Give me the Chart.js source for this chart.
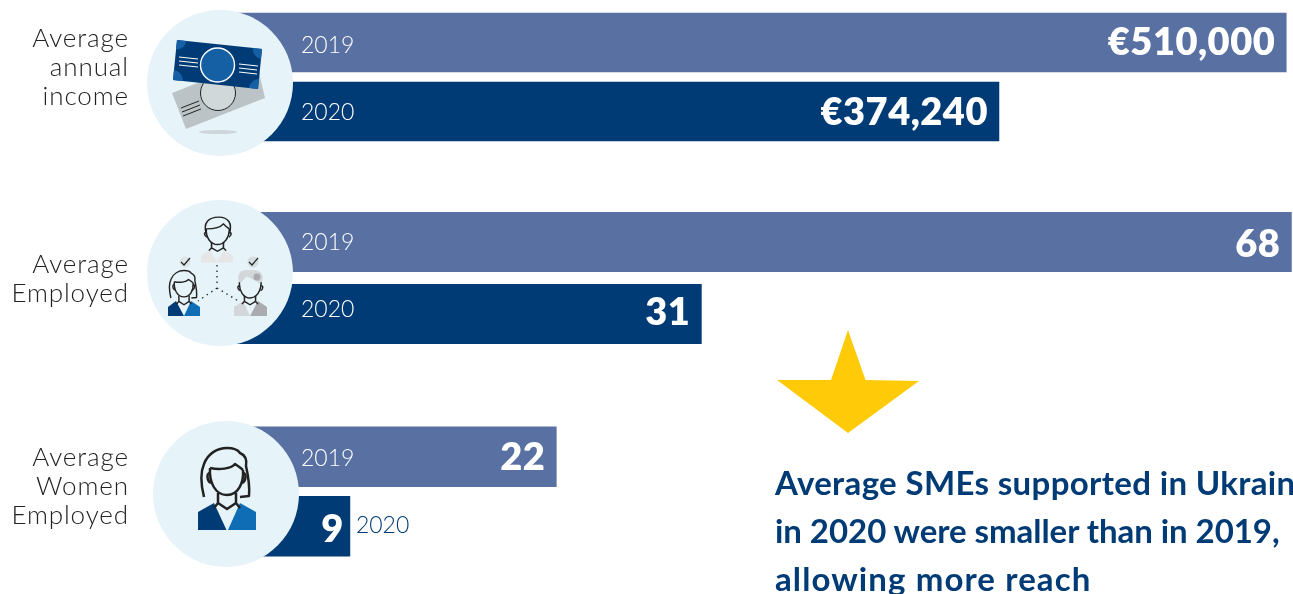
<!DOCTYPE html>
<html>
<head>
<meta charset="utf-8">
<script src="https://cdn.jsdelivr.net/npm/chart.js@4"></script>
<style>
    html, body { margin: 0; background: #fff; }
    #page { position: relative; width: 1293px; height: 594px; overflow: hidden; font-family: Lato, "Noto Sans", sans-serif; }
    canvas { position: absolute; left: 207px; }
    svg { position: absolute; left: 0; top: 0; }
    .rowLabel { position: absolute; right: 1164px; text-align: right; font-size: 26px; font-weight: 300; line-height: 29px; color: #222; letter-spacing: 0.9px; white-space: nowrap; }
    .headline { position: absolute; left: 775px; font-size: 33px; font-weight: 700; color: #003b76; white-space: nowrap; line-height: 48px; }
</style>
</head>
<body>
<div id="page">
    <canvas id="incomeChart" width="1086" height="138" style="top:8px"></canvas>
    <canvas id="employedChart" width="1086" height="144" style="top:206px"></canvas>
    <canvas id="womenChart" width="1086" height="139" style="top:422px"></canvas>

    <svg width="1293" height="594" viewBox="0 0 1293 594">
        <defs>
            <g id="womanHead" fill="none" stroke="#222" stroke-width="2.500" stroke-linejoin="round">
                <path d="M-23 50C-26 38-27 26-23 17C-19 6-9 1 0 1C6 1 11 3 13 6C18 8 20 13 19 19C21 28 23 38 22 49L13 50"/>
                <path d="M-17 21C-8 23 4 22 8 17C11 19 14 21 16 23"/>
                <path d="M-17 21C-18 35-12 48 0 48C11 48 17 36 16 23"/>
                <path d="M-17 26C-21 26-20 34-16 36M16 26C20 26 19 34 15 36"/>
                <path d="M-9 46V56L0 62L9 56V46M-13 61L-9 56M13 61L9 56"/>
            </g>
            <g id="manFace" fill="none" stroke="#222" stroke-width="2.400" stroke-linejoin="round">
                <path d="M-17 22C-18 38-10 50 0 50C10 50 18 38 18 22"/>
                <path d="M-17 28C-21 28-20 35-16 37M18 28C22 28 21 35 17 37"/>
                <path d="M-9 46V56L0 62L9 56V46M-13 61L-9 56M13 61L9 56"/>
            </g>
            <g id="manHair" fill="none" stroke="#222" stroke-width="2.400" stroke-linejoin="round">
                <path d="M-17 30C-22 12-14 1 2 1C16 1 23 12 18 30"/>
                <path d="M-17 22C-8 22 4 20 9 13C12 17 15 20 18 22"/>
            </g>
        </defs>

        <!-- icon circles -->
        <circle cx="220" cy="83" r="73" fill="#e6f3f9"/>
        <circle cx="220" cy="273" r="73" fill="#e6f3f9"/>
        <circle cx="226" cy="494" r="73" fill="#e6f3f9"/>

        <!-- money icon -->
        <ellipse cx="218" cy="132" rx="19" ry="2" fill="#cdd6da"/>
        <polygon points="172,93 256,60 265,98 186,129" fill="#bcc3c6"/>
        <circle cx="218" cy="93" r="17.500" fill="#d0d8da" stroke="#222" stroke-width="1"/>
        <path d="M181 108L199 101M182 112L200 105M183 116L201 109" stroke="#222" stroke-width="1"/>
        <polygon points="177,40 262,49 258,89 173,80" fill="#003b76"/>
        <path d="M177 40L186 41C186 46 181 50 176 49ZM262 49L261 59C256 58 252 53 253 48ZM258 89L259 79C254 79 249 84 249 88ZM173 80L174 70C179 71 183 75 183 81Z" fill="#1560a5"/>
        <circle cx="217.500" cy="65" r="17" fill="#1560a5" stroke="#fff" stroke-width="1.400"/>
        <path d="M179 57L198 59M179 61L198 63M179 65L198 67M239 64L258 66M239 68L257 70M239 72L257 74" stroke="#fff" stroke-width="1"/>

        <!-- three people icon -->
        <path d="M217 265V283M217 288L198 301M217 288L240 302" stroke="#222" stroke-width="1.300" stroke-dasharray="1.500 4" fill="none"/>
        <circle cx="185" cy="262" r="5.500" fill="#dfe4e7"/>
        <circle cx="253" cy="262" r="5.500" fill="#d5dbdf"/>
        <path d="M181 262L184 265L190 258M249 262L252 265L258 258" stroke="#222" stroke-width="1.200" fill="none"/>
        <polygon points="201,256 210,250 217,262 224,250 233,256 233,262.500 201,262.500" fill="#e6e6e7"/>
        <g transform="translate(217.500 216.500) scale(0.66 0.56)"><use href="#manFace"/><use href="#manHair"/></g>
        <polygon points="168,307 176,301 184,316 168,316" fill="#003b76"/>
        <polygon points="200,307 191,301 184,316 200,316" fill="#0e6db5"/>
        <use href="#womanHead" transform="translate(184 270) scale(0.57 0.56)"/>
        <path d="M239 284C235 268 247 270 250 270C262 269 265 276 261 284C254 281 248 276 246 277C244 280 241 282 239 284Z" fill="#d3d7d9"/>
        <circle cx="257" cy="277" r="3.500" fill="#a9abae"/>
        <polygon points="234,307 243,301 250,316 234,316" fill="#d3d7d9"/>
        <polygon points="267,307 258,301 250,316 267,316" fill="#a9abae"/>
        <use href="#manFace" transform="translate(250 270) scale(0.62 0.56)"/>

        <!-- woman icon -->
        <polygon points="198,512 214,503 226.500,530 198,530" fill="#003b76"/>
        <polygon points="256,512 240,503 228,530 256,530" fill="#0e6db5"/>
        <use href="#womanHead" transform="translate(227 447)"/>

        <!-- star -->
        <polygon points="848,330 865.500,380 919,381 848,433 777,380 831,380" fill="#ffcb08"/>
    </svg>

    <div class="rowLabel" style="top:23px">Average<br>annual<br>income</div>
    <div class="rowLabel" style="top:249px">Average<br>Employed</div>
    <div class="rowLabel" style="top:442px">Average<br>Women<br>Employed</div>

    <div class="headline" style="top:458px;letter-spacing:0.35px">Average SMEs supported in Ukraine</div>
    <div class="headline" style="top:506px;letter-spacing:-0.05px">in 2020 were smaller than in 2019,</div>
    <div class="headline" style="top:554px;letter-spacing:1.1px">allowing more reach</div>
</div>

<script>
const years = ['2019', '2020'];
const incomeValues = [510000, 374240];
const employedValues = [68, 31];
const womenValues = [22, 9];

const barColors = ['#5870a2', '#003b76'];
const YEAR_X = 94;

// value inside the bar end, year at the start of the bar (or after it if there is no room)
const barLabels = {
    id: 'barLabels',
    afterDatasetsDraw(chart, args, opts) {
        const ctx = chart.ctx;
        const bars = chart.getDatasetMeta(0).data;
        ctx.save();
        ctx.textBaseline = 'middle';
        bars.forEach((bar, i) => {
            const outside = bar.x < YEAR_X + 60;

            ctx.font = '800 38px Lato';
            ctx.letterSpacing = '0.5px';
            ctx.fillStyle = '#fff';
            ctx.textAlign = 'right';
            const text = opts.prefix + chart.data.datasets[0].data[i].toLocaleString('en-US');
            ctx.fillText(text, bar.x - (outside ? 6 : 11), bar.y + 1 + opts.valueNudge[i]);

            ctx.font = '300 23px Lato';
            ctx.letterSpacing = '0px';
            ctx.fillStyle = outside ? barColors[i] : '#fff';
            ctx.textAlign = 'left';
            ctx.fillText(years[i], outside ? bar.x + 6 : YEAR_X, bar.y + 1 + opts.yearNudge[i]);
        });
        ctx.restore();
    }
};

function makeChart(canvasId, values, axisMax, prefix, thickness, valueNudge, yearNudge) {
    return new Chart(document.getElementById(canvasId), {
        type: 'bar',
        data: {
            labels: years,
            datasets: [{
                data: values,
                backgroundColor: barColors,
                barThickness: thickness
            }]
        },
        options: {
            indexAxis: 'y',
            responsive: false,
            animation: false,
            layout: { padding: 0 },
            plugins: {
                legend: { display: false },
                tooltip: { enabled: false },
                barLabels: { prefix: prefix, valueNudge: valueNudge, yearNudge: yearNudge }
            },
            scales: {
                x: { display: false, min: 0, max: axisMax },
                y: { display: false }
            }
        },
        plugins: [barLabels]
    });
}

makeChart('incomeChart', incomeValues, 513200, '€', 59, [-1, 0], [2, 0]);
makeChart('employedChart', employedValues, 68.1, '', 59.5, [2, -2], [0, -5]);
makeChart('womenChart', womenValues, 68.4, '', 60, [0, 2], [1, -2]);
</script>
</body>
</html>
